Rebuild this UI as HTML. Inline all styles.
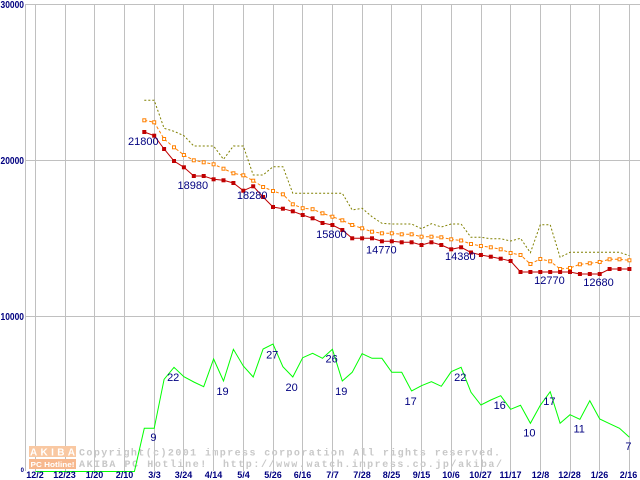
<!DOCTYPE html>
<html><head><meta charset="utf-8"><style>
html,body{margin:0;padding:0;background:#fff;}
svg{display:block;}
</style></head><body>
<svg width="640" height="480" viewBox="0 0 640 480" xmlns="http://www.w3.org/2000/svg">
<rect width="640" height="480" fill="#fff"/>
<g stroke="#c0c0c0" stroke-width="1" shape-rendering="crispEdges">
<line x1="25" y1="4.5" x2="640" y2="4.5"/>
<line x1="25" y1="160.5" x2="640" y2="160.5"/>
<line x1="25" y1="316.5" x2="640" y2="316.5"/>
<line x1="25.5" y1="4" x2="25.5" y2="471"/>
<line x1="35.5" y1="4" x2="35.5" y2="471"/>
<line x1="65.5" y1="4" x2="65.5" y2="471"/>
<line x1="94.5" y1="4" x2="94.5" y2="471"/>
<line x1="124.5" y1="4" x2="124.5" y2="471"/>
<line x1="154.5" y1="4" x2="154.5" y2="471"/>
<line x1="183.5" y1="4" x2="183.5" y2="471"/>
<line x1="213.5" y1="4" x2="213.5" y2="471"/>
<line x1="243.5" y1="4" x2="243.5" y2="471"/>
<line x1="273.5" y1="4" x2="273.5" y2="471"/>
<line x1="302.5" y1="4" x2="302.5" y2="471"/>
<line x1="332.5" y1="4" x2="332.5" y2="471"/>
<line x1="362.5" y1="4" x2="362.5" y2="471"/>
<line x1="391.5" y1="4" x2="391.5" y2="471"/>
<line x1="421.5" y1="4" x2="421.5" y2="471"/>
<line x1="451.5" y1="4" x2="451.5" y2="471"/>
<line x1="481.5" y1="4" x2="481.5" y2="471"/>
<line x1="510.5" y1="4" x2="510.5" y2="471"/>
<line x1="540.5" y1="4" x2="540.5" y2="471"/>
<line x1="570.5" y1="4" x2="570.5" y2="471"/>
<line x1="599.5" y1="4" x2="599.5" y2="471"/>
<line x1="629.5" y1="4" x2="629.5" y2="471"/>
</g>

<!-- watermark -->
<rect x="29" y="446" width="47" height="11" fill="#f9c8a2"/>
<text x="30" y="455.5" font-family="Liberation Sans, sans-serif" font-weight="bold" font-size="10" fill="#fff" textLength="45" lengthAdjust="spacing">AKIBA</text>
<rect x="29" y="459" width="47" height="10" fill="#f7b88e"/>
<text x="30.5" y="467" font-family="Liberation Sans, sans-serif" font-weight="bold" font-size="7.5" fill="#fff" textLength="44" lengthAdjust="spacingAndGlyphs">PC Hotline!</text>
<text x="79" y="455.5" font-family="Liberation Mono, monospace" font-weight="bold" font-size="10" fill="#c8c8c8" textLength="421" lengthAdjust="spacing">Copyright(c)2001 impress corporation All rights reserved.</text>
<text x="79" y="467" font-family="Liberation Mono, monospace" font-weight="bold" font-size="10" fill="#c8c8c8" textLength="423" lengthAdjust="spacing" xml:space="preserve">AKIBA PC Hotline!  http://www.watch.impress.co.jp/akiba/</text>

<g transform="translate(0.4,0)" fill="none" stroke-width="1">
<!-- olive dotted -->
<polyline stroke="#808000" stroke-dasharray="2,2" points="143.9,100.3 153.8,100.3 163.7,128.3 173.6,131.3 183.5,135.7 193.4,146 203.3,146 213.2,146 223.1,159.3 233,146 242.9,146 252.8,175 262.7,175 272.6,166.7 282.5,166.7 292.4,193.3 302.3,193.3 312.2,193.3 322.1,193.3 332,193.3 341.9,193.3 351.8,210 361.7,208.3 371.6,216.7 381.5,223.3 391.4,224 401.3,224 411.2,224 421.1,228.7 431,223.7 440.9,227 450.8,224 460.7,224 470.6,237.3 480.5,237.3 490.4,238.7 500.3,238.7 510.2,241 520.1,238.3 530,252.7 539.9,224.7 549.8,224.7 559.7,257.3 569.6,252.3 579.5,252.3 589.4,252.3 599.3,252.3 609.2,252.3 619.1,252.3 629,255.7"/>
<!-- orange dashed -->
<polyline stroke="#ff8000" stroke-dasharray="3,2" points="143.9,120.3 153.8,122.3 163.7,139 173.6,147.3 183.5,155 193.4,160.3 203.3,162.3 213.2,164.3 223.1,168.7 233,173.3 242.9,175.3 252.8,180.7 262.7,187 272.6,191 282.5,194.3 292.4,204.3 302.3,208.2 312.2,209.2 322.1,213.3 332,216.7 341.9,220.3 351.8,225 361.7,228.3 371.6,231.7 381.5,233.3 391.4,233.3 401.3,234.3 411.2,234.3 421.1,236.7 431,236.7 440.9,237.3 450.8,239.3 460.7,240.5 470.6,244 480.5,246 490.4,247.3 500.3,249.3 510.2,253 520.1,255 530,264 539.9,259 549.8,261.3 559.7,269 569.6,268 579.5,264.3 589.4,263.3 599.3,262 609.2,259.3 619.1,259.3 629,260.3"/>
<!-- red solid -->
<polyline stroke="#c00000" points="143.9,132 153.8,135.7 163.7,149 173.6,161 183.5,167.3 193.4,176 203.3,176 213.2,179.3 223.1,180.3 233,183 242.9,190.7 252.8,186.3 262.7,197 272.6,207 282.5,208.7 292.4,211.3 302.3,215 312.2,218.3 322.1,223 332,225 341.9,230 351.8,238.3 361.7,238.3 371.6,238.3 381.5,241.3 391.4,241.3 401.3,242.3 411.2,242.3 421.1,245 431,242.3 440.9,245 450.8,249.3 460.7,247.3 470.6,252.5 480.5,255 490.4,256.7 500.3,258.7 510.2,261 520.1,272 530,272 539.9,272 549.8,272 559.7,272 569.6,272 579.5,274 589.4,274 599.3,274 609.2,269 619.1,269 629,269"/>
<!-- green -->
<polyline stroke="#00ff00" points="35,471.5 44.9,471.5 54.8,471.5 64.7,471.5 74.6,471.5 84.5,471.5 94.4,471.5 104.3,471.5 114.2,471.5 124.1,471.5 134,471.5 143.9,428.3 153.8,428.3 163.7,379.3 173.6,367.3 183.5,376.7 193.4,382 203.3,386.7 213.2,359 223.1,381 233,349.3 242.9,366 252.8,377 262.7,349 272.6,344 282.5,366.7 292.4,377 302.3,357.7 312.2,353.3 322.1,358.3 332,349.3 341.9,381 351.8,372.3 361.7,353.7 371.6,358.3 381.5,358.3 391.4,372.3 401.3,372.3 411.2,391 421.1,385.7 431,381.7 440.9,386.3 450.8,371.7 460.7,367.3 470.6,392.3 480.5,405 490.4,400 500.3,395.7 510.2,409.3 520.1,405.3 530,423.3 539.9,405.3 549.8,391.7 559.7,423.3 569.6,414.7 579.5,419.3 589.4,400.7 599.3,419 609.2,423.7 619.1,428.3 629,437.3"/>
</g>

<!-- orange hollow markers -->
<g transform="translate(0.4,0)" fill="#fff" stroke="#ff8000" stroke-width="1">
<rect x="142.4" y="118.8" width="3" height="3"/><rect x="152.3" y="120.8" width="3" height="3"/><rect x="162.2" y="137.5" width="3" height="3"/><rect x="172.1" y="145.8" width="3" height="3"/><rect x="182" y="153.5" width="3" height="3"/><rect x="191.9" y="158.8" width="3" height="3"/><rect x="201.8" y="160.8" width="3" height="3"/><rect x="211.7" y="162.8" width="3" height="3"/><rect x="221.6" y="167.2" width="3" height="3"/><rect x="231.5" y="171.8" width="3" height="3"/><rect x="241.4" y="173.8" width="3" height="3"/><rect x="251.3" y="179.2" width="3" height="3"/><rect x="261.2" y="185.5" width="3" height="3"/><rect x="271.1" y="189.5" width="3" height="3"/><rect x="281" y="192.8" width="3" height="3"/><rect x="290.9" y="202.8" width="3" height="3"/><rect x="300.8" y="206.7" width="3" height="3"/><rect x="310.7" y="207.7" width="3" height="3"/><rect x="320.6" y="211.8" width="3" height="3"/><rect x="330.5" y="215.2" width="3" height="3"/><rect x="340.4" y="218.8" width="3" height="3"/><rect x="350.3" y="223.5" width="3" height="3"/><rect x="360.2" y="226.8" width="3" height="3"/><rect x="370.1" y="230.2" width="3" height="3"/><rect x="380" y="231.8" width="3" height="3"/><rect x="389.9" y="231.8" width="3" height="3"/><rect x="399.8" y="232.8" width="3" height="3"/><rect x="409.7" y="232.8" width="3" height="3"/><rect x="419.6" y="235.2" width="3" height="3"/><rect x="429.5" y="235.2" width="3" height="3"/><rect x="439.4" y="235.8" width="3" height="3"/><rect x="449.3" y="237.8" width="3" height="3"/><rect x="459.2" y="239" width="3" height="3"/><rect x="469.1" y="242.5" width="3" height="3"/><rect x="479" y="244.5" width="3" height="3"/><rect x="488.9" y="245.8" width="3" height="3"/><rect x="498.8" y="247.8" width="3" height="3"/><rect x="508.7" y="251.5" width="3" height="3"/><rect x="518.6" y="253.5" width="3" height="3"/><rect x="528.5" y="262.5" width="3" height="3"/><rect x="538.4" y="257.5" width="3" height="3"/><rect x="548.3" y="259.8" width="3" height="3"/><rect x="558.2" y="267.5" width="3" height="3"/><rect x="568.1" y="266.5" width="3" height="3"/><rect x="578" y="262.8" width="3" height="3"/><rect x="587.9" y="261.8" width="3" height="3"/><rect x="597.8" y="260.5" width="3" height="3"/><rect x="607.7" y="257.8" width="3" height="3"/><rect x="617.6" y="257.8" width="3" height="3"/><rect x="627.5" y="258.8" width="3" height="3"/>
</g>

<!-- red filled markers -->
<g transform="translate(0.4,0)" fill="#c00000">
<rect x="141.9" y="130" width="4" height="4"/><rect x="151.8" y="133.7" width="4" height="4"/><rect x="161.7" y="147" width="4" height="4"/><rect x="171.6" y="159" width="4" height="4"/><rect x="181.5" y="165.3" width="4" height="4"/><rect x="191.4" y="174" width="4" height="4"/><rect x="201.3" y="174" width="4" height="4"/><rect x="211.2" y="177.3" width="4" height="4"/><rect x="221.1" y="178.3" width="4" height="4"/><rect x="231" y="181" width="4" height="4"/><rect x="240.9" y="188.7" width="4" height="4"/><rect x="250.8" y="184.3" width="4" height="4"/><rect x="260.7" y="195" width="4" height="4"/><rect x="270.6" y="205" width="4" height="4"/><rect x="280.5" y="206.7" width="4" height="4"/><rect x="290.4" y="209.3" width="4" height="4"/><rect x="300.3" y="213" width="4" height="4"/><rect x="310.2" y="216.3" width="4" height="4"/><rect x="320.1" y="221" width="4" height="4"/><rect x="330" y="223" width="4" height="4"/><rect x="339.9" y="228" width="4" height="4"/><rect x="349.8" y="236.3" width="4" height="4"/><rect x="359.7" y="236.3" width="4" height="4"/><rect x="369.6" y="236.3" width="4" height="4"/><rect x="379.5" y="239.3" width="4" height="4"/><rect x="389.4" y="239.3" width="4" height="4"/><rect x="399.3" y="240.3" width="4" height="4"/><rect x="409.2" y="240.3" width="4" height="4"/><rect x="419.1" y="243" width="4" height="4"/><rect x="429" y="240.3" width="4" height="4"/><rect x="438.9" y="243" width="4" height="4"/><rect x="448.8" y="247.3" width="4" height="4"/><rect x="458.7" y="245.3" width="4" height="4"/><rect x="468.6" y="250.5" width="4" height="4"/><rect x="478.5" y="253" width="4" height="4"/><rect x="488.4" y="254.7" width="4" height="4"/><rect x="498.3" y="256.7" width="4" height="4"/><rect x="508.2" y="259" width="4" height="4"/><rect x="518.1" y="270" width="4" height="4"/><rect x="528" y="270" width="4" height="4"/><rect x="537.9" y="270" width="4" height="4"/><rect x="547.8" y="270" width="4" height="4"/><rect x="557.7" y="270" width="4" height="4"/><rect x="567.6" y="270" width="4" height="4"/><rect x="577.5" y="272" width="4" height="4"/><rect x="587.4" y="272" width="4" height="4"/><rect x="597.3" y="272" width="4" height="4"/><rect x="607.2" y="267" width="4" height="4"/><rect x="617.1" y="267" width="4" height="4"/><rect x="627" y="267" width="4" height="4"/>
</g>

<!-- data labels -->
<g font-family="Liberation Sans, sans-serif" font-size="11" fill="#000080" text-anchor="middle">
<text x="143.3" y="145">21800</text>
<text x="192.8" y="189">18980</text>
<text x="252.2" y="199">18280</text>
<text x="331.4" y="238">15800</text>
<text x="381.3" y="253.5">14770</text>
<text x="460.3" y="260">14380</text>
<text x="549.4" y="284">12770</text>
<text x="598.5" y="286">12680</text>
<text x="153.4" y="441">9</text>
<text x="173.2" y="381">22</text>
<text x="222.5" y="395">19</text>
<text x="272.2" y="358.3">27</text>
<text x="291.6" y="391">20</text>
<text x="331.6" y="362.7">26</text>
<text x="341.3" y="395">19</text>
<text x="410.6" y="405">17</text>
<text x="460.3" y="381">22</text>
<text x="499.7" y="409">16</text>
<text x="529.4" y="436.7">10</text>
<text x="549.4" y="405">17</text>
<text x="579.2" y="432.7">11</text>
<text x="628.4" y="450">7</text>
</g>

<!-- y axis labels -->
<g font-family="Liberation Sans, sans-serif" font-weight="bold" font-size="10" fill="#000080">
<text x="0.5" y="7.8" textLength="23.5" lengthAdjust="spacingAndGlyphs">30000</text>
<text x="0.5" y="163.8" textLength="23.5" lengthAdjust="spacingAndGlyphs">20000</text>
<text x="0.5" y="319.8" textLength="23.5" lengthAdjust="spacingAndGlyphs">10000</text>
<text x="24" y="472" font-size="6" text-anchor="end">0</text>
</g>

<!-- x axis labels -->
<g font-family="Liberation Sans, sans-serif" font-weight="bold" font-size="9" fill="#000080" text-anchor="middle">
<text x="35" y="478">12/2</text>
<text x="64.5" y="478">12/23</text>
<text x="94.5" y="478">1/20</text>
<text x="124.5" y="478">2/10</text>
<text x="154.5" y="478">3/3</text>
<text x="183.5" y="478">3/24</text>
<text x="213.5" y="478">4/14</text>
<text x="243.5" y="478">5/4</text>
<text x="273" y="478">5/26</text>
<text x="302.5" y="478">6/16</text>
<text x="332.5" y="478">7/7</text>
<text x="362" y="478">7/28</text>
<text x="391.5" y="478">8/25</text>
<text x="421.5" y="478">9/15</text>
<text x="451" y="478">10/6</text>
<text x="480.5" y="478">10/27</text>
<text x="510.5" y="478">11/17</text>
<text x="540.5" y="478">12/8</text>
<text x="569.5" y="478">12/28</text>
<text x="599.5" y="478">1/26</text>
<text x="628.5" y="478">2/16</text>
</g>
</svg>
</body></html>
